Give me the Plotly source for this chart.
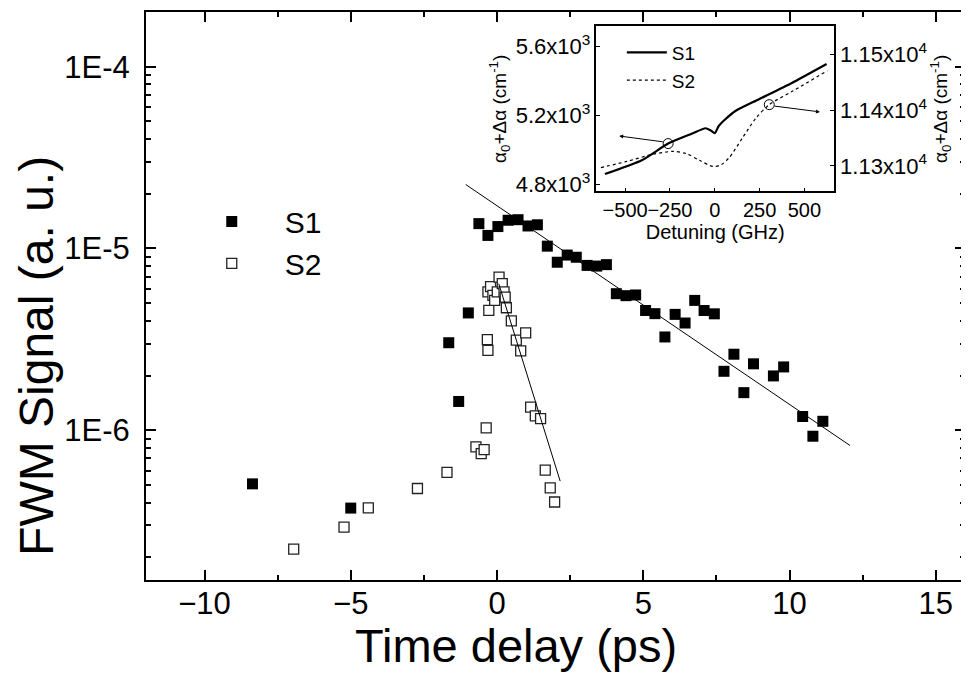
import plotly.graph_objects as go
import numpy as np

# ---------------- main data ----------------
s1_t = [-8.36, -5.0, -1.65, -1.31, -0.98, -0.62, -0.31, 0.03, 0.38, 0.72,
        1.06, 1.38, 1.72, 2.06, 2.40, 2.71, 3.08, 3.41, 3.74, 4.08,
        4.41, 4.74, 5.08, 5.40, 5.74, 6.09, 6.43, 6.76, 7.08, 7.43,
        7.76, 8.10, 8.44, 8.77, 9.45, 9.80, 10.45, 10.80, 11.14]
s1_y = [5.07e-7, 3.73e-7, 3.03e-6, 1.44e-6, 4.42e-6, 1.37e-5, 1.18e-5, 1.32e-5, 1.43e-5, 1.44e-5,
        1.33e-5, 1.35e-5, 1.03e-5, 8.4e-6, 9.2e-6, 8.95e-6, 8.07e-6, 8.0e-6, 8.15e-6, 5.64e-6,
        5.5e-6, 5.55e-6, 4.56e-6, 4.38e-6, 3.26e-6, 4.34e-6, 3.89e-6, 5.18e-6, 4.56e-6, 4.37e-6,
        2.11e-6, 2.62e-6, 1.61e-6, 2.32e-6, 1.99e-6, 2.23e-6, 1.19e-6, 9.27e-7, 1.12e-6]

s2_t = [-6.95, -5.23, -4.40, -2.72, -1.71, -0.72, -0.54, -0.44, -0.37, -0.33,
        -0.31, -0.28, -0.31, -0.22, -0.14, -0.08, 0.01, 0.07, 0.18, 0.24,
        0.28, 0.32, 0.49, 0.66, 0.81, 0.98, 1.15, 1.31, 1.49, 1.65,
        1.82, 1.97]
s2_y = [2.22e-7, 2.93e-7, 3.74e-7, 4.78e-7, 5.87e-7, 8.1e-7, 7.44e-7, 7.83e-7, 1.03e-6, 3.15e-6,
        2.75e-6, 4.56e-6, 5.77e-6, 6.17e-6, 5.52e-6, 5.18e-6, 5.77e-6, 6.95e-6, 6.4e-6, 5.77e-6,
        5.4e-6, 4.72e-6, 4.0e-6, 3.13e-6, 2.73e-6, 3.43e-6, 1.34e-6, 1.2e-6, 1.16e-6, 6.03e-7,
        4.82e-7, 4.03e-7]

fit1_t = [-1.07, 12.07]
fit1_y = [2.25e-5, 8.24e-7]
fit2_t = [0.06, 2.16]
fit2_y = [6.4e-6, 5.25e-7]

x_ticks = [-10, -5, 0, 5, 10, 15]
y_ticks = [1e-6, 1e-5, 1e-4]
y_ticktext = ["1E-6", "1E-5", "1E-4"]

# ---------------- inset data ----------------
in_det_s1 = [-613, -404, -260, -126, -52, -24, 0, 22, 59, 115, 244, 430, 624]
in_s1 = [4858, 4940, 5035, 5093, 5124, 5112, 5095, 5137, 5176, 5224, 5291, 5387, 5497]
in_det_s2 = [-635, -491, -343, -233, -159, -85, -11, 35, 81, 156, 230, 304, 433, 628]
in_s2 = [11297, 11308, 11321, 11326, 11322, 11310, 11299, 11302, 11315, 11351, 11386, 11410, 11434, 11471]

in_x_ticks = [-500, -250, 0, 250, 500]
in_yl_ticks = [4800, 5200, 5600]
in_yl_text = ["4.8x10<sup>3</sup>", "5.2x10<sup>3</sup>", "5.6x10<sup>3</sup>"]
in_yr_ticks = [11300, 11400, 11500]
in_yr_text = ["1.13x10<sup>4</sup>", "1.14x10<sup>4</sup>", "1.15x10<sup>4</sup>"]

FONT = "Liberation Sans, Arial, sans-serif"

fig = go.Figure()

fig.add_trace(go.Scatter(x=s1_t, y=s1_y, mode="markers", name="S1",
                         marker=dict(symbol="square", size=11, color="black",
                                     line=dict(width=0)),
                         legend="legend"))
fig.add_trace(go.Scatter(x=s2_t, y=s2_y, mode="markers", name="S2",
                         marker=dict(symbol="square", size=10, color="white",
                                     line=dict(width=1.3, color="#222")),
                         legend="legend"))
fig.add_trace(go.Scatter(x=fit1_t, y=fit1_y, mode="lines", showlegend=False,
                         line=dict(color="black", width=1)))
fig.add_trace(go.Scatter(x=fit2_t, y=fit2_y, mode="lines", showlegend=False,
                         line=dict(color="black", width=1)))

# inset curves
fig.add_trace(go.Scatter(x=in_det_s1, y=in_s1, mode="lines", name="S1",
                         xaxis="x2", yaxis="y2",
                         line=dict(color="black", width=2.2, shape="spline", smoothing=0.6),
                         legend="legend2"))
fig.add_trace(go.Scatter(x=in_det_s2, y=in_s2, mode="lines", name="S2",
                         xaxis="x2", yaxis="y3",
                         line=dict(color="black", width=1.2, dash="dot", shape="spline", smoothing=0.8),
                         legend="legend2"))
# circles marking curves
fig.add_trace(go.Scatter(x=[in_det_s1[2]], y=[in_s1[2]], mode="markers", showlegend=False,
                         xaxis="x2", yaxis="y2",
                         marker=dict(symbol="circle-open", size=10, color="black", line=dict(width=1))))
fig.add_trace(go.Scatter(x=[in_det_s2[11]], y=[in_s2[11]], mode="markers", showlegend=False,
                         xaxis="x2", yaxis="y3",
                         marker=dict(symbol="circle-open", size=10, color="black", line=dict(width=1))))

axis_common = dict(showline=True, linecolor="black", linewidth=2, showgrid=False,
                   zeroline=False, ticks="inside", tickcolor="black", tickwidth=2,
                   tickfont=dict(family=FONT, size=31, color="black"))

minor_y = [m * 10.0 ** e for e in range(-7, -3) for m in range(2, 10)]

inset_font = dict(family=FONT, size=22, color="black")

fig.update_layout(
    width=961, height=665,
    margin=dict(l=138, r=2, t=3, b=93),
    paper_bgcolor="white", plot_bgcolor="white",
    font=dict(family=FONT, color="black"),
    xaxis=dict(**axis_common, range=[-12, 16], tickvals=x_ticks, ticklen=10,
               mirror="ticks", ticklabelstandoff=-5,
               minor=dict(dtick=2.5, tick0=0, ticks="inside", ticklen=5, tickwidth=2, tickcolor="black")),
    yaxis=dict(**axis_common, type="log", range=[np.log10(1.5e-7), np.log10(2e-4)],
               tickvals=y_ticks, ticktext=y_ticktext, ticklen=10, mirror="ticks",
               ticklabelstandoff=8,
               minor=dict(tickvals=minor_y, ticks="inside", ticklen=5, tickwidth=1.5, tickcolor="black")),
    xaxis2=dict(domain=[0.550, 0.840], anchor="y2", range=[-660, 665],
                tickvals=in_x_ticks, showline=True, linecolor="black", linewidth=1.5,
                mirror=True, showgrid=False, zeroline=False, ticks="inside", ticklen=4,
                tickcolor="black", tickangle=0, tickfont=dict(family=FONT, size=20, color="black"),
                title=dict(text="Detuning (GHz)", font=dict(family=FONT, size=20, color="black"),
                           standoff=0)),
    yaxis2=dict(domain=[0.684, 0.975], anchor="x2", range=[4757, 5716],
                tickvals=in_yl_ticks, ticktext=in_yl_text, showline=True, linecolor="black",
                linewidth=1.5, showgrid=False, zeroline=False, ticks="inside", ticklen=4,
                tickcolor="black", tickangle=0, tickfont=inset_font,
                title=dict(text="α<sub>0</sub>+Δα (cm<sup>-1</sup>)",
                           font=dict(family=FONT, size=19, color="black"), standoff=4)),
    yaxis3=dict(overlaying="y2", anchor="x2", side="right", range=[11254, 11551],
                tickvals=in_yr_ticks, ticktext=in_yr_text, showline=True, linecolor="black",
                linewidth=1.5, showgrid=False, zeroline=False, ticks="inside", ticklen=4,
                tickcolor="black", tickangle=0, tickfont=inset_font,
                title=dict(text="α<sub>0</sub>+Δα (cm<sup>-1</sup>)",
                           font=dict(family=FONT, size=19, color="black"), standoff=6)),
    legend=dict(x=0.040, y=0.677, xanchor="left", yanchor="top",
                bgcolor="rgba(0,0,0,0)", font=dict(family=FONT, size=30, color="black"),
                itemwidth=96, tracegroupgap=0),
    legend2=dict(x=0.581, y=0.962, xanchor="left", yanchor="top",
                 bgcolor="rgba(0,0,0,0)", font=dict(family=FONT, size=19, color="black"),
                 itemwidth=40),
)

# axis titles placed as annotations
fig.add_annotation(text="Time delay (ps)", xref="paper", yref="paper",
                   x=0.452, y=-0.1151, xanchor="center", yanchor="middle", showarrow=False,
                   font=dict(family=FONT, size=47, color="black"))
fig.add_annotation(text="FWM Signal (a. u.)", xref="paper", yref="paper",
                   x=-0.134, y=0.395, xanchor="center", yanchor="middle", showarrow=False,
                   textangle=-90, font=dict(family=FONT, size=48, color="black"))

# arrows in inset
fig.add_annotation(x=-533, y=5079, xref="x2", yref="y2", ax=45, ay=6,
                   showarrow=True, arrowhead=2, arrowsize=0.8, arrowwidth=1, arrowcolor="black", text="")
fig.add_annotation(x=587, y=11397, xref="x2", yref="y3", ax=-47, ay=-6,
                   showarrow=True, arrowhead=2, arrowsize=0.8, arrowwidth=1, arrowcolor="black", text="")

fig.write_html("out.html")
